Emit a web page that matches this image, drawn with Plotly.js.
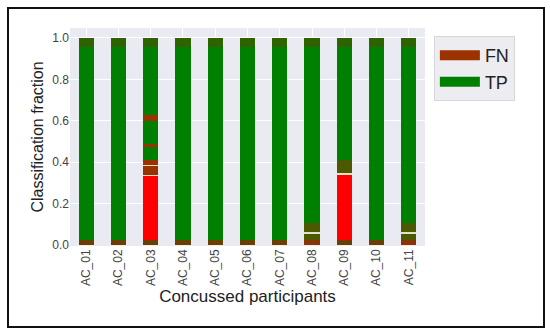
<!DOCTYPE html>
<html>
<head>
<meta charset="utf-8">
<script src="https://cdn.plot.ly/plotly-3.0.1.min.js"></script>
<style>
  html, body { margin: 0; padding: 0; background: #fff; }
  #wrap { position: relative; width: 550px; height: 336px; }
  #chart { width: 550px; height: 336px; }
  #frame { position: absolute; left: 7px; top: 7px; width: 538px; height: 321px;
           box-sizing: border-box; border: 2px solid #111; pointer-events: none; }
</style>
</head>
<body>
<div id="wrap"><div id="chart"></div><div id="frame"></div></div>
<script>
// Categories (concussed participants)
const categories = ["AC_01","AC_02","AC_03","AC_04","AC_05","AC_06","AC_07","AC_08","AC_09","AC_10","AC_11"];

// Stacked segment heights (bottom to top)
const fnBottom   = [0.025,0.025,0.025,0.025,0.025,0.025,0.025,0.025,0.025,0.025,0.025];
const redSeg     = [0,0,0.31,0,0,0,0,0,0.315,0,0];
const oliveLow   = [0,0,0,0,0,0,0,0.03,0,0,0.03];
const sepLow     = [0,0,0.006,0,0,0,0,0.007,0.006,0,0.007];
const midSeg     = [0,0,0.04,0,0,0,0,0.045,0.064,0,0.045];
const sepMid     = [0,0,0.006,0,0,0,0,0,0,0,0];
const fnMid      = [0,0,0.025,0,0,0,0,0,0,0,0];
const tpMain     = [0.93,0.93,0.063,0.93,0.93,0.93,0.93,0.848,0.545,0.93,0.848];
const fnStripe1  = [0,0,0.015,0,0,0,0,0,0,0,0];
const tpUpper1   = [0,0,0.11,0,0,0,0,0,0,0,0];
const fnStripe2  = [0,0,0.03,0,0,0,0,0,0,0,0];
const tpUpper2   = [0,0,0.325,0,0,0,0,0,0,0,0];
const topCap     = [0.045,0.045,0.045,0.045,0.045,0.045,0.045,0.045,0.045,0.045,0.045];

const yTicks = [0, 0.2, 0.4, 0.6, 0.8, 1.0];
const legendNames = ["FN", "TP"];

// Styles
const BROWN = "#9a3300", GREEN = "#008000", RED = "#ff0000", OLIVE = "#4c5900",
      DARKOLIVE = "#2f6200", BASE = "#6a3f00", SEP = "#e4e2c4";
const midColors = categories.map((c) => (c === "AC_03" ? BROWN : OLIVE));
const baseColors = categories.map((c) => (c === "AC_08" || c === "AC_11" ? "#8a3500" : BASE));

const layers = [
  [fnBottom, baseColors], [redSeg, RED], [oliveLow, OLIVE], [sepLow, SEP],
  [midSeg, midColors], [sepMid, SEP], [fnMid, BROWN], [tpMain, GREEN],
  [fnStripe1, BROWN], [tpUpper1, GREEN], [fnStripe2, BROWN], [tpUpper2, GREEN],
  [topCap, DARKOLIVE]
];

const traces = layers.map(([vals, col]) => ({
  type: "bar", x: categories, y: vals, showlegend: false, hoverinfo: "skip",
  marker: { color: col, line: { width: 0 } }, width: 0.47
}));

// Legend entries
const legendColors = [BROWN, GREEN];
legendNames.forEach((n, i) => traces.push({
  type: "scatter", mode: "lines", name: n, x: [categories[0]], y: [null],
  line: { color: legendColors[i], width: 12 }, hoverinfo: "skip"
}));

const layout = {
  width: 550, height: 336,
  margin: { l: 70, r: 125, t: 28, b: 90 },
  barmode: "stack",
  paper_bgcolor: "#ffffff",
  plot_bgcolor: "#eaeaf2",
  font: { family: "Liberation Sans, Arial, sans-serif", color: "#333" },
  xaxis: {
    type: "category", range: [-0.5, 10.5], tickangle: -90,
    showgrid: true, gridcolor: "#ffffff", gridwidth: 1,
    tickfont: { size: 12, color: "#444" }, ticks: "", ticklen: 0,
    zeroline: false, showline: false,
    title: { text: "Concussed participants", font: { size: 17, color: "#222" }, standoff: 4 }
  },
  yaxis: {
    range: [-0.004, 1.048], tickvals: yTicks, tickformat: ".1f",
    showgrid: true, gridcolor: "#ffffff", gridwidth: 1,
    tickfont: { size: 12, color: "#444" }, ticks: "", zeroline: false, showline: false,
    title: { text: "Classification fraction", font: { size: 16, color: "#222" }, standoff: 4 }
  },
  legend: {
    x: 1.025, y: 0.963, xanchor: "left", yanchor: "top", traceorder: "normal",
    bgcolor: "#ececf1", bordercolor: "#d6d6dc", borderwidth: 1,
    font: { size: 18, color: "#222" }, itemwidth: 40, tracegroupgap: 4
  },
  showlegend: true
};

Plotly.newPlot("chart", traces, layout, { displayModeBar: false, staticPlot: true });
</script>
</body>
</html>
